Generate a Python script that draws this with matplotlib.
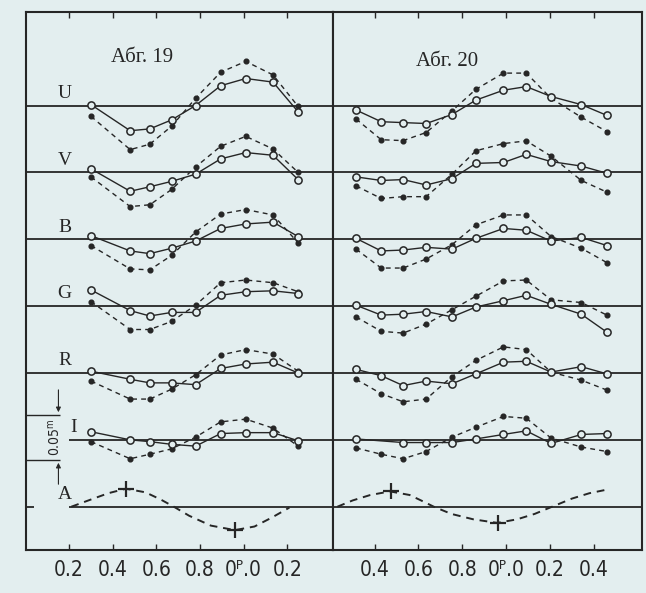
import numpy as np
import matplotlib
matplotlib.use("Agg")
import matplotlib.pyplot as plt

# ----------------------------
# Data: phase and deviation (mag) for each band
# open = circles / solid line, dot = filled dots / dashed line
# ----------------------------
bands = ["U", "V", "B", "G", "R", "I"]

# Абг. 19
phase_19 = [0.30, 0.48, 0.57, 0.67, 0.78, 0.895, 1.01, 1.135, 1.25]
u19_open = [0.001, -0.028, -0.026, -0.016, 0.000, 0.022, 0.030, 0.026, -0.007]
u19_dot = [-0.012, -0.049, -0.043, -0.023, 0.008, 0.037, 0.049, 0.034, -0.001]
v19_open = [0.004, -0.021, -0.016, -0.010, -0.002, 0.015, 0.022, 0.019, -0.008]
v19_dot = [-0.005, -0.038, -0.036, -0.019, 0.006, 0.029, 0.040, 0.026, 0.000]
b19_open = [0.004, -0.013, -0.016, -0.010, -0.002, 0.012, 0.017, 0.019, 0.003]
b19_dot = [-0.007, -0.033, -0.034, -0.018, 0.008, 0.028, 0.033, 0.027, -0.004]
g19_open = [0.018, -0.005, -0.011, -0.007, -0.007, 0.012, 0.016, 0.017, 0.014]
g19_dot = [0.005, -0.026, -0.026, -0.017, 0.001, 0.026, 0.029, 0.026, 0.016]
r19_open = [0.002, -0.007, -0.011, -0.011, -0.013, 0.005, 0.010, 0.012, 0.000]
r19_dot = [-0.009, -0.029, -0.029, -0.018, -0.002, 0.020, 0.026, 0.021, 0.002]
i19_open = [0.009, 0.000, -0.002, -0.005, -0.007, 0.007, 0.008, 0.008, -0.001]
i19_dot = [-0.002, -0.021, -0.016, -0.010, 0.003, 0.020, 0.023, 0.013, -0.007]

a19_phase = [0.21, 0.30, 0.38, 0.46, 0.55, 0.62, 0.68, 0.75, 0.85, 0.96, 1.05, 1.13, 1.21]
a19 = [0.000, 0.008, 0.015, 0.020, 0.016, 0.008, 0.000, -0.010, -0.021, -0.026, -0.022, -0.012, -0.001]
a19_mark_phase = [0.46, 0.96]
a19_mark = [0.020, -0.026]

# Абг. 20
phase_20 = [0.315, 0.43, 0.53, 0.635, 0.753, 0.862, 0.988, 1.092, 1.205, 1.343, 1.46]
u20_open = [-0.005, -0.018, -0.019, -0.020, -0.010, 0.006, 0.017, 0.021, 0.010, 0.001, -0.011]
u20_dot = [-0.015, -0.038, -0.039, -0.030, -0.006, 0.018, 0.036, 0.036, 0.008, -0.013, -0.029]
v20_open = [-0.005, -0.009, -0.008, -0.014, -0.007, 0.010, 0.011, 0.020, 0.012, 0.007, -0.001]
v20_dot = [-0.015, -0.029, -0.027, -0.027, -0.002, 0.024, 0.032, 0.035, 0.018, -0.009, -0.022]
b20_open = [0.001, -0.013, -0.012, -0.009, -0.011, 0.001, 0.012, 0.010, -0.002, 0.002, -0.007]
b20_dot = [-0.011, -0.032, -0.032, -0.022, -0.006, 0.016, 0.027, 0.027, 0.003, -0.010, -0.026]
g20_open = [0.001, -0.010, -0.009, -0.006, -0.012, -0.001, 0.006, 0.012, 0.002, -0.009, -0.029]
g20_dot = [-0.012, -0.028, -0.030, -0.020, -0.004, 0.011, 0.028, 0.029, 0.007, 0.004, -0.010]
r20_open = [0.004, -0.003, -0.014, -0.009, -0.012, -0.001, 0.012, 0.013, 0.001, 0.007, -0.001]
r20_dot = [-0.007, -0.023, -0.032, -0.029, -0.004, 0.014, 0.029, 0.026, 0.001, -0.008, -0.019]
i20_open = [0.001, np.nan, -0.003, -0.003, -0.003, 0.001, 0.006, 0.010, -0.004, 0.006, 0.007]
i20_dot = [-0.009, -0.016, -0.021, -0.013, 0.003, 0.014, 0.026, 0.024, 0.002, -0.008, -0.013]

a20_phase = [0.23, 0.30, 0.38, 0.47, 0.56, 0.62, 0.67, 0.75, 0.85, 0.96, 1.05, 1.13, 1.21, 1.30, 1.38, 1.46]
a20 = [0.000, 0.007, 0.013, 0.017, 0.013, 0.006, 0.000, -0.008, -0.014, -0.018, -0.014, -0.008, 0.000, 0.009, 0.015, 0.019]
a20_mark_phase = [0.475, 0.965]
a20_mark = [0.017, -0.018]

ticks_19 = [0.2, 0.4, 0.6, 0.8, 1.0, 1.2]
ticklabels_19 = ["0.2", "0.4", "0.6", "0.8", "0ᴾ.0", "0.2"]
ticks_20 = [0.4, 0.6, 0.8, 1.0, 1.2, 1.4]
ticklabels_20 = ["0.4", "0.6", "0.8", "0ᴾ.0", "0.2", "0.4"]

# ----------------------------
# Style
# ----------------------------
BG = "#e3eeef"
INK = "#262626"
STEP = 0.0743  # vertical spacing between band baselines
offsets = {b: -k * STEP for k, b in enumerate(bands + ["A"])}

plt.rcParams["font.family"] = ["DejaVu Sans"]
plt.rcParams["font.stretch"] = "condensed"
SERIF = ["Liberation Serif", "DejaVu Serif"]

fig = plt.figure(figsize=(6.46, 5.93), dpi=100, facecolor=BG)
ax1 = fig.add_axes([25.5 / 646, 43 / 593, 307.5 / 646, 538 / 593])
ax2 = fig.add_axes([333 / 646, 43 / 593, 309 / 646, 538 / 593], sharey=ax1)

nights = [
    (ax1, phase_19, {"U": (u19_open, u19_dot), "V": (v19_open, v19_dot),
                     "B": (b19_open, b19_dot), "G": (g19_open, g19_dot),
                     "R": (r19_open, r19_dot), "I": (i19_open, i19_dot)},
     a19_phase, a19, a19_mark_phase, a19_mark, (0.0, 1.41)),
    (ax2, phase_20, {"U": (u20_open, u20_dot), "V": (v20_open, v20_dot),
                     "B": (b20_open, b20_dot), "G": (g20_open, g20_dot),
                     "R": (r20_open, r20_dot), "I": (i20_open, i20_dot)},
     a20_phase, a20, a20_mark_phase, a20_mark, (0.21, 1.62)),
]

for ax, ph, series, a_ph, a_val, m_ph, m_val, xlim in nights:
    ax.set_facecolor(BG)
    ph = np.array(ph)
    for band in bands:
        off = offsets[band]
        if ax is ax1 and band == "I":
            ax.hlines(off, 0.2, xlim[1], color=INK, lw=1.3)
        else:
            ax.axhline(off, color=INK, lw=1.3)
        y_open = np.array(series[band][0], dtype=float)
        y_dot = np.array(series[band][1], dtype=float)
        ax.plot(ph, off + y_dot, color=INK, lw=1.0, ls=(0, (3.5, 3)),
                marker="o", ms=3.4, mfc=INK, mec=INK, zorder=3)
        ok = ~np.isnan(y_open)
        ax.plot(ph[ok], off + y_open[ok], color=INK, lw=1.0, marker="o",
                ms=5.2, mfc=BG, mec=INK, mew=1.1, zorder=4)

    # A curve
    off = offsets["A"]
    if ax is ax1:
        ax.hlines(off, 0.2, xlim[1], color=INK, lw=1.3)
        ax.hlines(off, xlim[0], 0.04, color=INK, lw=1.3)
    else:
        ax.axhline(off, color=INK, lw=1.3)
    ax.plot(a_ph, off + np.array(a_val), color=INK, lw=1.4, ls=(0, (4, 3)))
    ax.plot(m_ph, off + np.array(m_val), ls="none", marker="+", ms=11,
            mew=1.6, color=INK)

    ax.set_xlim(*xlim)
    ax.set_yticks([])
    ax.tick_params(axis="x", direction="in", length=4, width=1.0,
                   top=True, labelsize=15, pad=7, colors=INK)
    for sp in ax.spines.values():
        sp.set_linewidth(1.5)
        sp.set_color(INK)

ax1.set_ylim(-0.4939, 0.1039)
ax1.set_xticks(ticks_19)
ax1.set_xticklabels(ticklabels_19)
ax2.set_xticks(ticks_20)
ax2.set_xticklabels(ticklabels_20)

# band letters
for band in bands + ["A"]:
    x = 0.22 if band == "I" else 0.18
    ax1.text(x, offsets[band] + 0.0135, band, family=SERIF, fontsize=14,
             ha="center", va="center", color=INK)

# scale bar 0.05 mag
top = offsets["R"] - 0.0467
bot = top - 0.05
ax1.hlines([top, bot], 0.0, 0.16, color=INK, lw=1.0)
ax1.annotate("", xy=(0.151, top), xytext=(0.151, top + 0.031),
             arrowprops=dict(arrowstyle="-|>", lw=0.8, color=INK, mutation_scale=7))
ax1.annotate("", xy=(0.151, bot), xytext=(0.151, bot - 0.03),
             arrowprops=dict(arrowstyle="-|>", lw=0.8, color=INK, mutation_scale=7))
ax1.text(0.135, (top + bot) / 2, "0.05$^{\\rm m}$", rotation=90, fontsize=10,
         ha="center", va="center", color=INK)

fig.text(142 / 646, 1 - 58 / 593, "Абг. 19", family=SERIF, fontsize=15,
         ha="center", va="center", color=INK)
fig.text(447 / 646, 1 - 62 / 593, "Абг. 20", family=SERIF, fontsize=15,
         ha="center", va="center", color=INK)

fig.savefig("out.png", dpi=100, facecolor=BG)
